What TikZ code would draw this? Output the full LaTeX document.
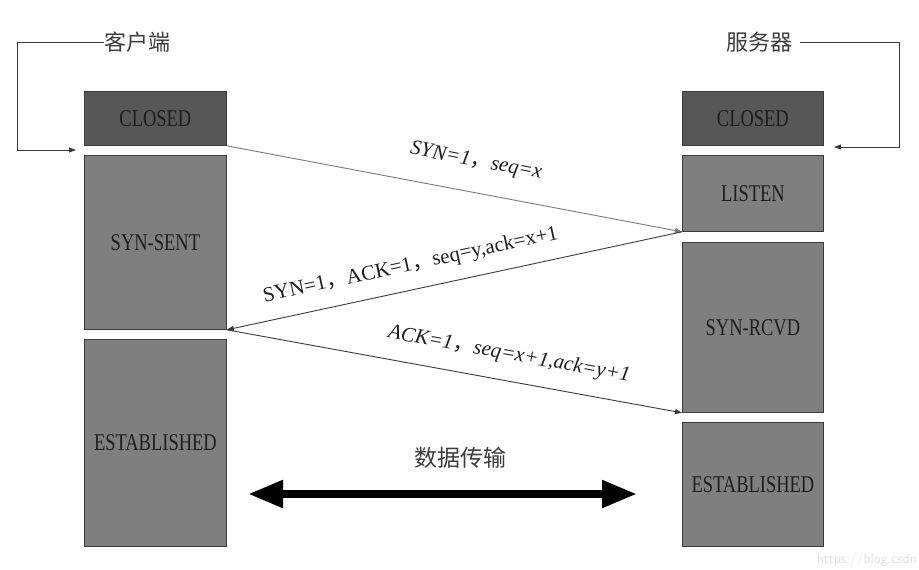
\documentclass[tikz,border=0pt]{standalone}
\usepackage{fontspec}
\setmainfont{Liberation Serif}
\newfontfamily\cjk{Noto Sans CJK SC}
\newfontfamily\boxfont[FakeStretch=0.77]{Liberation Serif}
\usetikzlibrary{arrows.meta}
\definecolor{darkbox}{HTML}{575757}
\definecolor{midbox}{HTML}{7F7F7F}
\definecolor{boxline}{HTML}{3A3A3A}
\definecolor{txt}{HTML}{1E1E1E}
\definecolor{cjktxt}{HTML}{3C3C3C}
\begin{document}
\begin{tikzpicture}[x=1pt,y=-1pt,
  state/.style={draw=boxline,line width=0.8pt,minimum width=142pt,inner sep=0pt,
    font=\boxfont\fontsize{24}{24}\selectfont,text=txt,anchor=north west},
  dstate/.style={state,fill=darkbox},
  mstate/.style={state,fill=midbox},
  msg/.style={-{Triangle[length=7pt,width=5pt]},line width=0.9pt},
  lbl/.style={font=\fontsize{21}{21}\selectfont,text=txt,sloped,inner sep=1pt},
  loop/.style={draw=boxline,line width=0.8pt,-{Triangle[length=7pt,width=5pt]}},
  title/.style={font=\cjk\fontsize{22}{22}\selectfont,text=cjktxt,inner sep=0pt}]
\useasboundingbox (0,0) rectangle (919,570);
% client column
\node[dstate,minimum height=54pt] (ccl) at (84,91) {CLOSED};
\node[mstate,minimum height=174pt] (csyn) at (84,155) {SYN-SENT};
\node[mstate,minimum height=207pt] (cest) at (84,339) {ESTABLISHED};
% server column
\node[dstate,minimum height=54pt,minimum width=141pt] (scl) at (682,91) {CLOSED};
\node[mstate,minimum height=76pt,minimum width=141pt] (slis) at (682,155) {LISTEN};
\node[mstate,minimum height=170pt,minimum width=141pt] (srcv) at (682,242) {SYN-RCVD};
\node[mstate,minimum height=124pt,minimum width=141pt] (sest) at (682,422) {ESTABLISHED};
% titles
\node[title,anchor=west] (client) at (104,42) {客户端};
\node[title,anchor=east] (server) at (793,42) {服务器};
\coordinate (cin) at (76,150);
\coordinate (sin) at (834,147);
\draw[loop] (client.west) -| (17,150) -- (cin);
\draw[loop] (server.east) ++(7,0) -| (899,147) -- (sin);
% messages
\draw[msg,draw=gray!95!black] (ccl.south east) -- (slis.south west)
  node[lbl,pos=0.535,above=20pt] {\itshape SYN=1{\cjk ，}seq=x};
\draw[msg,draw=boxline] (slis.south west) -- (csyn.south east)
  node[lbl,pos=0.585,above=13pt] {SYN=1{\cjk ，}ACK=1{\cjk ，}seq=y,ack=x+1};
\draw[msg,draw=boxline] (csyn.south east) -- (srcv.south west)
  node[lbl,pos=0.61,above=15pt] {\itshape ACK=1{\cjk ，}seq=x+1,ack=y+1};
% data transfer
\coordinate (dl) at (248,494);
\coordinate (dr) at (637,494);
\draw[line width=8pt,{Triangle[length=35pt,width=26pt]}-{Triangle[length=35pt,width=26pt]}] (dl) -- (dr);
\node[title,font=\cjk\fontsize{23}{23}\selectfont] (data) at (460,458) {数据传输};
\node[font=\fontsize{14}{14}\selectfont\sffamily,text=gray!25,anchor=east,inner sep=0pt] (wm) at (917,560) {https://blog.csdn};
\end{tikzpicture}
\end{document}
